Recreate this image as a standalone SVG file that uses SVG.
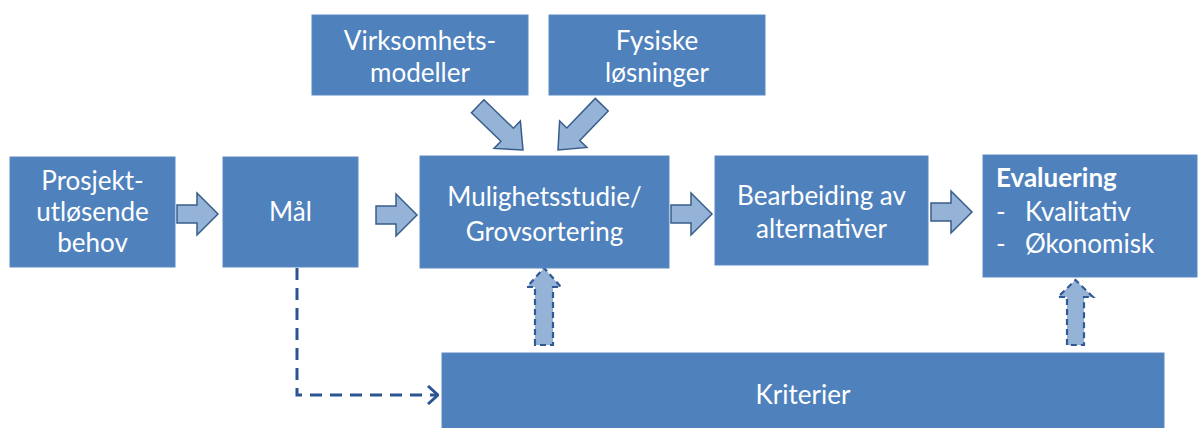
<svg xmlns="http://www.w3.org/2000/svg" width="1201" height="428" viewBox="0 0 1201 428">
  <style>
    .box { fill: #4f81bd; stroke: #5a8ac4; stroke-width: 1; }
    .lbl { fill: #ffffff; font-family: Lato, "Liberation Sans", sans-serif; font-size: 26px; text-anchor: middle; }
    .left { text-anchor: start; }
    .bold { font-weight: bold; }
    .blk { fill: #95b3d7; stroke: #385d8a; stroke-width: 1.5; stroke-linejoin: miter; }
    .blk-dash { fill: #95b3d7; stroke: #2f5a94; stroke-width: 2.2; stroke-dasharray: 6 4; }
    .link { fill: none; stroke: #2b5591; stroke-width: 3; stroke-dasharray: 12 8; }
  </style>
  <defs>
    <!-- block arrow pointing right, tip at origin -->
    <path id="arrowR" d="M-41,-9 H-21 V-21 L0,0 L-21,21 V9 H-41 Z"/>
    <!-- longer block arrow used for the diagonal inputs -->
    <path id="arrowD" d="M-63,-9 H-22 V-19 L0,0 L-22,19 V9 H-63 Z"/>
    <marker id="chev" viewBox="0 0 12 20" refX="11" refY="10" markerWidth="12" markerHeight="20" markerUnits="userSpaceOnUse" orient="auto">
      <polyline points="1,1 11,10 1,19" fill="none" stroke="#2b5591" stroke-width="3"/>
    </marker>
  </defs>

  <rect width="1201" height="428" fill="#ffffff"/>

  <g id="connectors">
    <use href="#arrowR" class="blk" transform="translate(218,214)"/>
    <use href="#arrowR" class="blk" transform="translate(417,215)"/>
    <use href="#arrowR" class="blk" transform="translate(712,214)"/>
    <use href="#arrowR" class="blk" transform="translate(972,212)"/>
    <use href="#arrowD" class="blk" transform="translate(523,150) rotate(44)"/>
    <use href="#arrowD" class="blk" transform="translate(558,150) rotate(134)"/>
    <path class="blk-dash" d="M535,345 V287 H527 L544,268 L561,287 H553 V345 Z"/>
    <path class="blk-dash" d="M1067,345 V297 H1058 L1075.5,280 L1093,297 H1084 V345 Z"/>
    <path class="link" d="M297,268 V395 H438" marker-end="url(#chev)"/>
  </g>

  <g id="node-behov">
    <rect class="box" x="10" y="157" width="165" height="110"/>
    <text class="lbl" x="92.5" y="190">Prosjekt-</text>
    <text class="lbl" x="92.5" y="221">utløsende</text>
    <text class="lbl" x="92.5" y="252">behov</text>
  </g>

  <g id="node-maal">
    <rect class="box" x="223" y="157" width="135" height="110"/>
    <text class="lbl" x="290.5" y="221">Mål</text>
  </g>

  <g id="node-virksomhet">
    <rect class="box" x="312" y="15" width="216" height="80"/>
    <text class="lbl" x="420" y="50">Virksomhets-</text>
    <text class="lbl" x="420" y="82">modeller</text>
  </g>

  <g id="node-fysiske">
    <rect class="box" x="549" y="15" width="216" height="80"/>
    <text class="lbl" x="657" y="50">Fysiske</text>
    <text class="lbl" x="657" y="82">løsninger</text>
  </g>

  <g id="node-mulighet">
    <rect class="box" x="420" y="156" width="249" height="112"/>
    <text class="lbl" x="544.5" y="206">Mulighetsstudie/</text>
    <text class="lbl" x="544.5" y="241">Grovsortering</text>
  </g>

  <g id="node-bearbeiding">
    <rect class="box" x="715" y="156" width="213" height="109"/>
    <text class="lbl" x="821.5" y="205">Bearbeiding av</text>
    <text class="lbl" x="821.5" y="238">alternativer</text>
  </g>

  <g id="node-evaluering">
    <rect class="box" x="983" y="155" width="214" height="122"/>
    <text class="lbl left bold" x="996" y="187">Evaluering</text>
    <text class="lbl left" x="996" y="221">-</text>
    <text class="lbl left" x="1025" y="221">Kvalitativ</text>
    <text class="lbl left" x="996" y="253">-</text>
    <text class="lbl left" x="1025" y="253">Økonomisk</text>
  </g>

  <g id="node-kriterier">
    <rect class="box" x="442" y="353" width="722" height="90"/>
    <text class="lbl" x="803" y="404">Kriterier</text>
  </g>
</svg>
